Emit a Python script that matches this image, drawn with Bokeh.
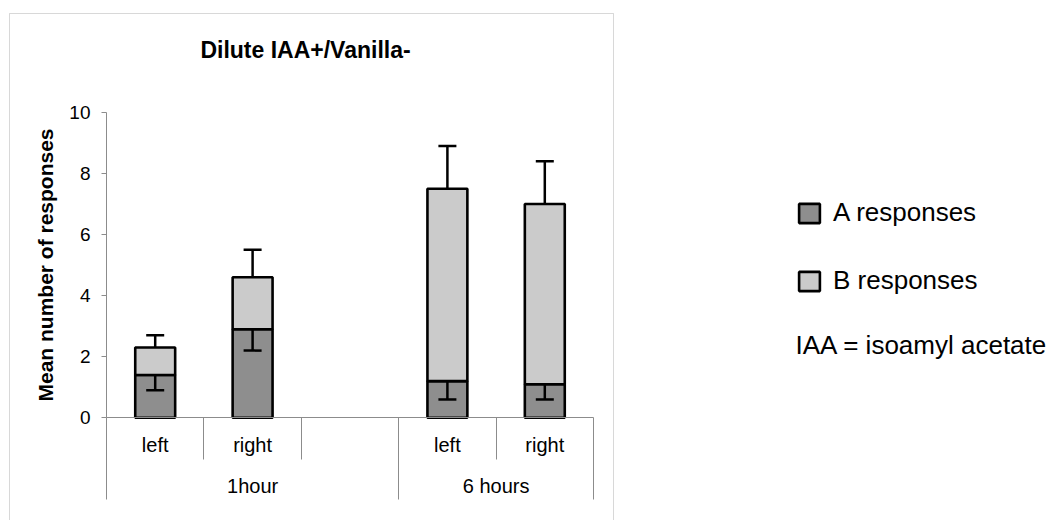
from bokeh.plotting import figure
from bokeh.models import (Range1d, LinearAxis, FixedTicker, ColumnDataSource, Whisker,
                          TeeHead, Legend, LegendItem, Label, BoxAnnotation)
from bokeh.embed import file_html
from bokeh.resources import INLINE

# x-axis slots: (time point, side); the empty slot separates the two time points
groups = ["1hour", "1hour", "1hour", "6 hours", "6 hours"]
sides = ["left", "right", "", "left", "right"]

# one stacked bar per (time point, side)
bar_groups = ["1hour", "1hour", "6 hours", "6 hours"]
bar_sides = ["left", "right", "left", "right"]
a_mean = [1.4, 2.9, 1.2, 1.1]      # A responses
b_mean = [0.9, 1.7, 6.3, 5.9]      # B responses (stacked on A)
a_err = [0.5, 0.7, 0.6, 0.5]       # error on A (drawn downwards)
total_err = [0.4, 0.9, 1.4, 1.4]   # error on A+B (drawn upwards)

y_ticks = [0, 2, 4, 6, 8, 10]

TITLE = "Dilute IAA+/Vanilla-"
Y_LABEL = "Mean number of responses"
NOTE = "IAA = isoamyl acetate"

FONT = "Liberation Sans"
A_COLOR = "#8e8e8e"
B_COLOR = "#cbcbcb"
AXIS_COLOR = "#8c8c8c"

# canvas geometry (pixels)
W, H = 1055, 520
X0_PX, SLOT_PX = 106, 97.4      # left edge of the first slot, slot width
Y0_PX, UNIT_PX = 417.3, 30.55   # baseline, pixels per response

# slot k is centred on x = k
slot_keys = list(zip(groups, sides))
n_slots = len(slot_keys)
x = [slot_keys.index(k) for k in zip(bar_groups, bar_sides)]
total = [a + b for a, b in zip(a_mean, b_mean)]

src = ColumnDataSource(dict(
    x=x, a=a_mean, b=b_mean, total=total,
    a_lo=[m - e for m, e in zip(a_mean, a_err)],
    t_hi=[t + e for t, e in zip(total, total_err)],
))

x_lo = -0.5 - X0_PX / SLOT_PX
p = figure(width=W, height=H, output_backend="svg", toolbar_location=None,
           x_range=Range1d(x_lo, x_lo + W / SLOT_PX),
           y_range=Range1d(-(H - Y0_PX) / UNIT_PX, Y0_PX / UNIT_PX),
           x_axis_type=None, y_axis_type=None, min_border=0,
           outline_line_color=None, background_fill_color="white",
           border_fill_color="white")

bars = p.vbar_stack(["a", "b"], x="x", width=0.41, source=src,
                    fill_color=[A_COLOR, B_COLOR], line_color="black",
                    line_width=2.6)

# error bars: A downwards from the top of A, total upwards from the top of the stack
p.add_layout(Whisker(source=src, base="x", lower="a_lo", upper="a",
                     upper_head=None,
                     lower_head=TeeHead(size=18, line_width=2.5, line_color="black"),
                     line_width=2.5, line_color="black", level="annotation"))
p.add_layout(Whisker(source=src, base="x", lower="total", upper="t_hi",
                     lower_head=None,
                     upper_head=TeeHead(size=18, line_width=2.5, line_color="black"),
                     line_width=2.5, line_color="black", level="annotation"))

# y axis, pinned to the left edge of the first slot
yaxis = LinearAxis(ticker=FixedTicker(ticks=y_ticks), bounds=(0, 10),
                   fixed_location=-0.5, axis_label=Y_LABEL)
yaxis.axis_line_color = AXIS_COLOR
yaxis.major_tick_line_color = AXIS_COLOR
yaxis.major_tick_out = 5
yaxis.major_tick_in = 0
yaxis.minor_tick_line_color = None
yaxis.major_label_text_font = FONT
yaxis.major_label_text_font_size = "19px"
yaxis.major_label_text_color = "black"
yaxis.major_label_standoff = 11
yaxis.axis_label_text_font = FONT
yaxis.axis_label_text_font_size = "21px"
yaxis.axis_label_text_font_style = "bold"
yaxis.axis_label_text_color = "black"
yaxis.axis_label_standoff = 9
p.add_layout(yaxis, "left")


def x_axis(ticks, labels, standoff, tick_out=0, line=False):
    ax = LinearAxis(ticker=FixedTicker(ticks=ticks), fixed_location=0,
                    major_label_overrides=dict(zip(ticks, labels)))
    ax.bounds = (-0.5, n_slots - 0.5)
    ax.axis_line_color = AXIS_COLOR if line else None
    ax.major_tick_line_color = AXIS_COLOR if tick_out else None
    ax.major_tick_out = tick_out
    ax.major_tick_in = 0
    ax.minor_tick_line_color = None
    ax.major_label_text_font = FONT
    ax.major_label_text_font_size = "20px"
    ax.major_label_text_color = "black"
    ax.major_label_standoff = standoff
    p.add_layout(ax, "below")


# side labels under each slot
x_axis(list(range(n_slots)), sides, 16, line=True)

# time-point labels centred under their slots
group_names = list(dict.fromkeys(groups))
group_centres = [sum(i for i, g in enumerate(groups) if g == name) / groups.count(name)
                 for name in group_names]
x_axis(group_centres, group_names, 57)

# slot dividers: long ones at the ends of each time point, short ones inside
bounds = [k - 0.5 for k in range(n_slots + 1)]
long_div = [b for i, b in enumerate(bounds)
            if i == 0 or i == n_slots or groups[i - 1] != groups[i]]
short_div = [b for b in bounds if b not in long_div]
x_axis(short_div, [""] * len(short_div), 0, tick_out=42)
x_axis(long_div, [""] * len(long_div), 0, tick_out=82)

# chart frame
p.add_layout(BoxAnnotation(left=9, right=613, top=H - 13, bottom=-10,
                           left_units="screen", right_units="screen",
                           top_units="screen", bottom_units="screen",
                           fill_color=None, line_color="#7f7f7f", line_width=1))

p.add_layout(Label(x=305, y=H - 49, x_units="screen", y_units="screen", text=TITLE,
                   text_align="center", text_baseline="middle", text_font=FONT,
                   text_font_size="23px", text_font_style="bold", text_color="black"))

legend = Legend(items=[LegendItem(label="A responses", renderers=[bars[0]]),
                       LegendItem(label="B responses", renderers=[bars[1]])],
                location=(796, 224), padding=0, margin=0, spacing=37,
                glyph_width=26, glyph_height=24, label_height=24, label_standoff=11,
                label_text_font=FONT, label_text_font_size="26px",
                label_text_color="black", border_line_color=None,
                background_fill_alpha=0)
p.add_layout(legend)

p.add_layout(Label(x=795, y=H - 344, x_units="screen", y_units="screen", text=NOTE,
                   text_baseline="middle", text_font=FONT, text_font_size="26px",
                   text_color="black"))

open("out.html", "w").write(file_html(p, INLINE))
